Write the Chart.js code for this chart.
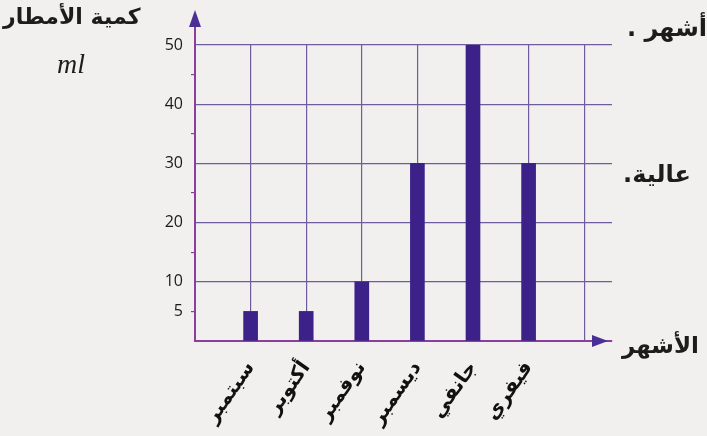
<!DOCTYPE html>
<html lang="ar">
<head>
<meta charset="utf-8">
<script src="https://cdn.jsdelivr.net/npm/chart.js@4.4.1/dist/chart.umd.min.js"></script>
<style>
  html, body { margin: 0; padding: 0; background: #f1f0ee; }
  .wrap { position: relative; width: 707px; height: 436px; overflow: hidden; }
  canvas { position: absolute; left: 0; top: 0; }
  .txt { position: absolute; font-family: "DejaVu Sans", sans-serif; font-weight: bold; color: #1c1c1c; white-space: nowrap; direction: rtl; }
  .unit { position: absolute; font-family: "Liberation Serif", serif; font-style: italic; font-size: 28px; color: #1c1c1c; }
</style>
</head>
<body>
<div class="wrap">
  <canvas id="rainChart" width="707" height="436"></canvas>
  <div class="txt" style="left:3px; top:4px; font-size:22px;">كمية الأمطار</div>
  <div class="unit" style="left:57px; top:48px;">ml</div>
  <div class="txt" style="right:0px; top:14px; font-size:24px;">أشهر .</div>
  <div class="txt" style="right:16px; top:160px; font-size:24px;">عالية.</div>
  <div class="txt" style="right:8px; top:332px; font-size:23px;">الأشهر</div>
</div>
<script>
// chart data
const months = ['سبتمبر', 'أكتوبر', 'نوفمبر', 'ديسمبر', 'جانفي', 'فيفري'];
const rainfall = [5, 5, 10, 30, 50, 30];
const yTickLabels = [5, 10, 20, 30, 40, 50];

const gridColor = '#6e5c9e';
const axisColor = '#8b3f9c';
const barColor = '#3c2189';

// arrows on the ends of both axes
const axisArrows = {
  id: 'axisArrows',
  afterDraw(chart) {
    const ctx = chart.ctx;
    const a = chart.chartArea;
    ctx.save();
    ctx.strokeStyle = axisColor;
    ctx.lineWidth = 2;
    ctx.beginPath();
    ctx.moveTo(a.left, a.top);
    ctx.lineTo(a.left, a.top - 24);
    ctx.stroke();
    ctx.fillStyle = '#4b2f97';
    ctx.beginPath();
    ctx.moveTo(a.left, a.top - 35);
    ctx.lineTo(a.left - 6, a.top - 18);
    ctx.lineTo(a.left + 6, a.top - 18);
    ctx.closePath();
    ctx.fill();
    ctx.beginPath();
    ctx.moveTo(a.right - 4, a.bottom);
    ctx.lineTo(a.right - 20, a.bottom - 6);
    ctx.lineTo(a.right - 20, a.bottom + 6);
    ctx.closePath();
    ctx.fill();
    ctx.restore();
  }
};

const ctx = document.getElementById('rainChart');
new Chart(ctx, {
  type: 'bar',
  data: {
    datasets: [{
      data: months.map((m, i) => ({ x: i + 1, y: rainfall[i] })),
      backgroundColor: barColor,
      borderWidth: 0,
      barThickness: 14
    }]
  },
  options: {
    responsive: false,
    animation: false,
    layout: { padding: { top: 45, right: 95, left: 0, bottom: 0 } },
    plugins: {
      legend: { display: false },
      tooltip: { enabled: false }
    },
    scales: {
      x: {
        type: 'linear',
        offset: false,
        min: 0,
        max: 7.5,
        afterFit: function(scale) { scale.height = 95; },
        border: { color: axisColor, width: 2 },
        grid: {
          offset: false,
          color: c => (c.tick && c.tick.value > 0 && c.tick.value % 1 === 0) ? gridColor : 'transparent',
          lineWidth: 1.2,
          drawTicks: false
        },
        ticks: {
          stepSize: 1,
          autoSkip: false,
          minRotation: 55,
          maxRotation: 55,
          padding: 16,
          color: '#111',
          font: { family: 'DejaVu Sans', size: 20, weight: 'bold' },
          callback: function(v) {
            return (v >= 1 && v <= months.length && v % 1 === 0) ? months[v - 1] : '';
          }
        }
      },
      y: {
        min: 0,
        max: 50,
        afterFit: function(scale) { scale.width = 195; },
        border: { color: axisColor, width: 2 },
        grid: {
          color: c => (c.tick && c.tick.value > 0 && c.tick.value % 10 === 0) ? gridColor : 'transparent',
          tickColor: c => (c.tick && c.tick.value % 10 === 5) ? axisColor : 'transparent',
          tickLength: 4,
          lineWidth: 1.2
        },
        ticks: {
          stepSize: 5,
          padding: 8,
          color: '#1a1a1a',
          font: { family: 'Open Sans', size: 16 },
          callback: v => yTickLabels.includes(v) ? String(v) : ''
        }
      }
    }
  },
  plugins: [axisArrows]
});
</script>
</body>
</html>
